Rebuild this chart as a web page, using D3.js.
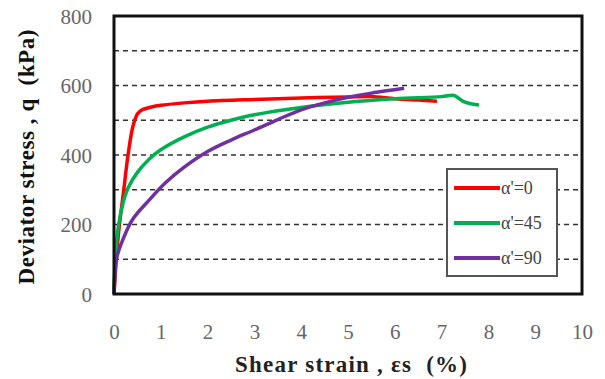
<!DOCTYPE html>
<html>
<head>
<meta charset="utf-8">
<script src="https://cdn.jsdelivr.net/npm/d3@7"></script>
<style>
body { margin: 0; background: #fff; }
text { white-space: pre; }
</style>
</head>
<body>
<div id="chart"></div>
<script>
var margin = {top: 16, right: 23, bottom: 85, left: 114};
var width = 605 - margin.left - margin.right;
var height = 379 - margin.top - margin.bottom;
var serif = "'Liberation Serif', 'Times New Roman', 'DejaVu Serif', serif";

// data: [shear strain %, deviator stress kPa]
var xTicks = [0, 1, 2, 3, 4, 5, 6, 7, 8, 9, 10];
var yTicks = [0, 200, 400, 600, 800];
var gridValues = [100, 200, 300, 400, 500, 600, 700];
var seriesNames = ["α'=0", "α'=45", "α'=90"];
var seriesColors = ["#ff0000", "#00b050", "#7030a0"];
var red = [[0,0],[0.05,100],[0.1,180],[0.2,290],[0.3,400],[0.4,480],[0.5,518],[0.6,530],[0.8,538],[1,543],[1.5,550],[2,555],[3,560],[4,564],[5,567],[5.5,568],[6,562],[6.5,558],[6.9,555]];
var green = [[0,0],[0.03,110],[0.1,200],[0.2,265],[0.3,305],[0.5,350],[0.75,388],[1,415],[1.5,452],[2,480],[2.5,500],[3,516],[4,537],[5,552],[6,562],[7,568],[7.25,572],[7.35,565],[7.45,555],[7.6,548],[7.8,544]];
var purple = [[0,0],[0.02,60],[0.05,100],[0.2,160],[0.4,215],[0.75,270],[1.1,320],[1.5,365],[2,410],[2.5,443],[3,472],[3.5,502],[4,530],[4.5,550],[5,566],[5.5,578],[6,588],[6.2,592]];
var series = [red, green, purple];

var svg = d3.select("#chart").append("svg")
    .attr("width", 605)
    .attr("height", 379);

var g = svg.append("g")
    .attr("transform", "translate(" + margin.left + "," + margin.top + ")");

var x = d3.scaleLinear().domain([0, 10]).range([0, width]);
var y = d3.scaleLinear().domain([0, 800]).range([height, 0]);

// dashed grid
g.selectAll(".grid")
    .data(gridValues)
    .enter().append("line")
    .attr("x1", 0).attr("x2", width)
    .attr("y1", function(d) { return y(d); })
    .attr("y2", function(d) { return y(d); })
    .attr("stroke", "#333")
    .attr("stroke-width", 1.5)
    .attr("stroke-dasharray", "5,4");

// curves
var line = d3.line()
    .x(function(d) { return x(d[0]); })
    .y(function(d) { return y(d[1]); })
    .curve(d3.curveCatmullRom.alpha(0.5));

g.selectAll(".curve")
    .data(series)
    .enter().append("path")
    .attr("d", line)
    .attr("fill", "none")
    .attr("stroke", function(d, i) { return seriesColors[i]; })
    .attr("stroke-width", 3.5)
    .attr("stroke-linejoin", "round");

// frame
g.append("rect")
    .attr("width", width).attr("height", height)
    .attr("fill", "none")
    .attr("stroke", "#111")
    .attr("stroke-width", 3);

// axes (labels only)
var xAxis = g.append("g")
    .attr("transform", "translate(0," + (height + 38) + ")")
    .call(d3.axisBottom(x).tickValues(xTicks).tickSize(0).tickPadding(0));
var yAxis = g.append("g")
    .attr("transform", "translate(-22,0)")
    .call(d3.axisLeft(y).tickValues(yTicks).tickSize(0).tickPadding(0));
[xAxis, yAxis].forEach(function(a) {
    a.attr("font-family", serif).attr("font-size", 21);
    a.select(".domain").remove();
    a.selectAll("text").attr("fill", "#666");
});
yAxis.selectAll("text").attr("dy", "0.35em");
xAxis.selectAll("text").attr("dy", "0.35em");

// axis titles
svg.append("text")
    .attr("x", 351).attr("y", 372)
    .attr("text-anchor", "middle")
    .attr("font-family", serif)
    .attr("font-size", 23)
    .attr("font-weight", "bold")
    .attr("fill", "#222")
    .attr("textLength", 232)
    .attr("lengthAdjust", "spacing")
    .text("Shear strain , εs  (%)");

svg.append("text")
    .attr("transform", "translate(34,157) rotate(-90)")
    .attr("text-anchor", "middle")
    .attr("font-family", serif)
    .attr("font-size", 23)
    .attr("font-weight", "bold")
    .attr("fill", "#111")
    .attr("textLength", 255)
    .attr("lengthAdjust", "spacing")
    .text("Deviator stress , q  (kPa)");

// legend
var legend = svg.append("g").attr("transform", "translate(447,169)");
legend.append("rect")
    .attr("width", 110).attr("height", 107)
    .attr("fill", "#fff")
    .attr("stroke", "#555")
    .attr("stroke-width", 2);
var item = legend.selectAll(".item")
    .data(seriesNames)
    .enter().append("g")
    .attr("transform", function(d, i) { return "translate(0," + (19 + i * 35) + ")"; });
item.append("line")
    .attr("x1", 7).attr("x2", 53)
    .attr("stroke", function(d, i) { return seriesColors[i]; })
    .attr("stroke-width", 4);
item.append("text")
    .attr("x", 54).attr("dy", "0.35em")
    .attr("font-family", serif)
    .attr("font-size", 18)
    .attr("fill", "#444")
    .text(function(d) { return d; });
</script>
</body>
</html>
